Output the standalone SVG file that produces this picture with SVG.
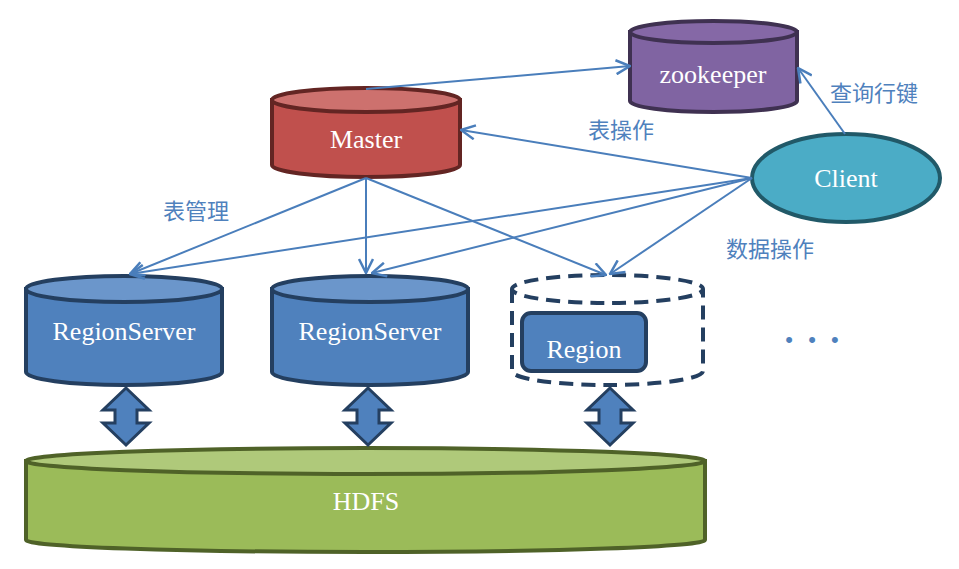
<svg xmlns="http://www.w3.org/2000/svg" width="959" height="569" viewBox="0 0 959 569">
<style>
.lbl{font-family:"Liberation Serif","Times New Roman",serif;fill:#ffffff;text-anchor:middle;font-size:26px}
.cn{font-family:"Liberation Serif","Noto Sans CJK SC",sans-serif;fill:#4f81bd;font-size:22px}
.con{stroke:#4a7ebb;stroke-width:2;fill:none;marker-end:url(#ah)}
.dbl{fill:#4f81bd;stroke:#243f60;stroke-width:3;stroke-linejoin:miter}
</style>
<defs>
<marker id="ah" viewBox="0 0 16 16" refX="15" refY="8" markerWidth="16" markerHeight="16" markerUnits="userSpaceOnUse" orient="auto">
<path d="M1,1 L15,8 L1,15" fill="none" stroke="#4a7ebb" stroke-width="2.5"/>
</marker>
</defs>
<rect width="959" height="569" fill="#ffffff"/>

<g id="zookeeper">
<path d="M630,32 V101 A83.5,11 0 0 0 797,101 V32 Z" fill="#8064a2" stroke="#3f3151" stroke-width="4"/>
<ellipse cx="713.5" cy="32" rx="83.5" ry="11" fill="#8568a6" stroke="#3f3151" stroke-width="4"/>
<text class="lbl" x="713" y="83">zookeeper</text>
</g>

<g id="master">
<path d="M272,100 V165 A94,12 0 0 0 460,165 V100 Z" fill="#c0504d" stroke="#632523" stroke-width="4"/>
<ellipse cx="366" cy="100" rx="94" ry="12" fill="#cd716e" stroke="#632523" stroke-width="4"/>
<text class="lbl" x="366" y="148">Master</text>
</g>

<g id="client">
<ellipse cx="846" cy="178" rx="94" ry="44" fill="#4bacc6" stroke="#215968" stroke-width="4"/>
<text class="lbl" x="846" y="187">Client</text>
</g>

<g id="regionserver1">
<path d="M26,289 V372 A98,13 0 0 0 222,372 V289 Z" fill="#4f81bd" stroke="#243f60" stroke-width="4"/>
<ellipse cx="124" cy="289" rx="98" ry="13" fill="#6b96cb" stroke="#243f60" stroke-width="4"/>
<text class="lbl" x="124" y="340">RegionServer</text>
</g>

<g id="regionserver2">
<path d="M272,289 V372 A98,13 0 0 0 468,372 V289 Z" fill="#4f81bd" stroke="#243f60" stroke-width="4"/>
<ellipse cx="370" cy="289" rx="98" ry="13" fill="#6b96cb" stroke="#243f60" stroke-width="4"/>
<text class="lbl" x="370" y="340">RegionServer</text>
</g>

<g id="regionserver3">
<path d="M512,289 V371 A95.5,14 0 0 0 703,371 V289 A95.5,14 0 0 0 512,289 A95.5,14 0 0 0 703,289" fill="none" stroke="#243f60" stroke-width="4" stroke-dasharray="14,8"/>
<rect x="522" y="313" width="124" height="58" rx="9" fill="#4f81bd" stroke="#243f60" stroke-width="4"/>
<text class="lbl" x="584" y="358">Region</text>
</g>

<g id="hdfs">
<path d="M26,461 V540 A339.5,12 0 0 0 705,540 V461 Z" fill="#9bbb59" stroke="#4f6228" stroke-width="4"/>
<ellipse cx="365.5" cy="461" rx="339.5" ry="13" fill="#afc97a" stroke="#4f6228" stroke-width="4"/>
<text class="lbl" x="366" y="510">HDFS</text>
</g>

<g id="io-arrows">
<path class="dbl" transform="translate(126,388)" d="M0,0 L23,22 L11,22 L11,35 L23,35 L0,57 L-23,35 L-11,35 L-11,22 L-23,22 Z"/>
<path class="dbl" transform="translate(368,388)" d="M0,0 L23,22 L11,22 L11,35 L23,35 L0,57 L-23,35 L-11,35 L-11,22 L-23,22 Z"/>
<path class="dbl" transform="translate(610,388)" d="M0,0 L23,22 L11,22 L11,35 L23,35 L0,57 L-23,35 L-11,35 L-11,22 L-23,22 Z"/>
</g>

<g id="connectors">
<line class="con" x1="366" y1="89" x2="630" y2="66"/>
<line class="con" x1="845" y1="134" x2="798" y2="68"/>
<line class="con" x1="752" y1="178" x2="461" y2="130"/>
<line class="con" x1="752" y1="178" x2="130" y2="274"/>
<line class="con" x1="752" y1="178" x2="372" y2="273"/>
<line class="con" x1="752" y1="178" x2="610" y2="274"/>
<line class="con" x1="366" y1="178" x2="130" y2="274"/>
<line class="con" x1="366" y1="178" x2="366" y2="273"/>
<line class="con" x1="366" y1="178" x2="606" y2="275"/>
</g>

<g id="labels">
<text class="cn" x="588" y="138">表操作</text>
<text class="cn" x="163" y="219">表管理</text>
<text class="cn" x="726" y="257">数据操作</text>
<text class="cn" x="830" y="101">查询行键</text>
<text x="812" y="347" style="font-family:'Liberation Sans',sans-serif;font-size:22px;fill:#4f81bd;text-anchor:middle;word-spacing:9px">• • •</text>
</g>
</svg>
